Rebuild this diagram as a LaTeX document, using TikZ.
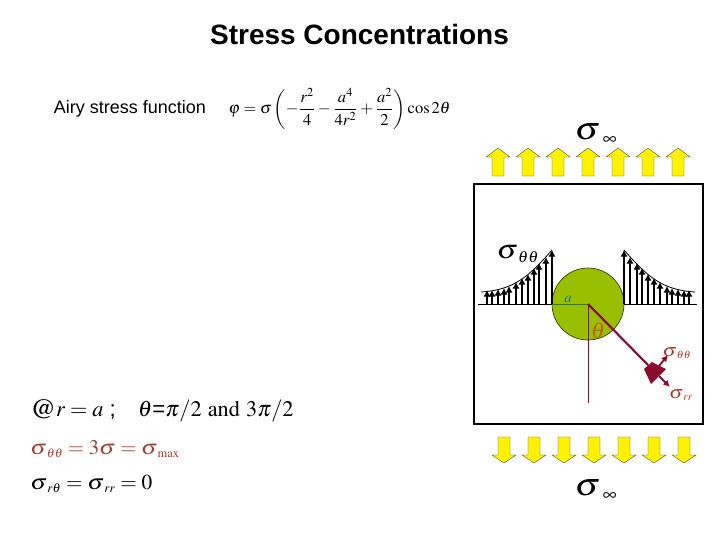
\documentclass[tikz,border=0pt]{standalone}
\usepackage{fontspec}
\usepackage{mathptmx}
\usetikzlibrary{arrows.meta}
\setmainfont{Liberation Sans}
\definecolor{leaf}{RGB}{153,192,0}
\definecolor{maroon}{RGB}{140,10,45}
\definecolor{rust}{RGB}{165,60,50}
\definecolor{ochre}{RGB}{190,100,20}
\definecolor{teal}{RGB}{30,120,130}
\newcommand{\widesig}{\scalebox{1.12}[1]{$\sigma$}}
\newcommand{\sigsub}[1]{\widesig_{\scriptscriptstyle #1}}
\tikzset{
    x=0.75pt,y=-0.75pt,
    yellowarrow/.style={draw=black!70,fill=yellow,line width=0.3pt},
    stressarrow/.style={-{Latex[length=5pt,width=5.5pt]},line width=1.15pt},
    redarrow/.style={maroon,-{Latex[length=5pt,width=5pt]},line width=1.4pt},
    eqn/.style={anchor=base west,inner sep=0pt},
    biglabel/.style={inner sep=0pt,font=\fontsize{24}{24}\selectfont},
    smalllabel/.style={inner sep=0pt,font=\fontsize{13.5}{14}\selectfont,text=rust}
}
\begin{document}
\begin{tikzpicture}
    \useasboundingbox (0,0) rectangle (720,540);
    \node [inner sep=0pt,font=\fontsize{21}{24}\selectfont\bfseries] (title) at (359.5,34) {Stress Concentrations};
    \node [inner sep=0pt,font=\fontsize{13.5}{16}\selectfont] (airy) at (130,109) {Airy stress function};
    \node [inner sep=0pt,font=\fontsize{12.4}{14}\selectfont] (phi) at (339.5,109) {$\displaystyle \varphi=\sigma\left(-\frac{r^2}{4}-\frac{a^4}{4r^2}+\frac{a^2}{2}\right)\cos 2\theta$};
    \draw [line width=0.9pt] (474,184) rectangle (703,424);
    \foreach \x in {498,528,558,588,618,648,678}
        \draw [yellowarrow] (\x,148) -- ++(12,9) -- ++(-6,0) -- ++(0,19) -- ++(-12,0) -- ++(0,-19) -- ++(-6,0) -- cycle;
    \foreach \x in {504,534,564,594,624,654,684}
        \draw [yellowarrow] (\x,463) -- ++(12,-8) -- ++(-6,0) -- ++(0,-18) -- ++(-12,0) -- ++(0,18) -- ++(-6,0) -- cycle;
    \node [biglabel] (topsig) at (596,134) {$\widesig_{\,\scriptscriptstyle\infty}$};
    \node [biglabel] (botsig) at (596,490) {$\widesig_{\,\scriptscriptstyle\infty}$};
    \fill [leaf] (588,304) circle (36);
    \draw [line width=0.5pt,black!70!leaf] (588,304) circle (36);
    \draw [line width=0.6pt] (478,304) -- (552,304);
    \draw [line width=0.6pt] (624,304) -- (697,304);
    \draw [teal,line width=0.6pt] (552,304) -- (588,304);
    \foreach \x/\y in {487/290,492/290,498/289,504/288,509/286,516/282,522/278,528/274,534/268,539/263,546/257,552/250}
    {
        \draw [stressarrow] (\x,304) -- (\x,\y);
        \draw [stressarrow] (1176-\x,304) -- (1176-\x,\y);
    }
    \draw [line width=0.6pt] (481,292) .. controls (515,290) and (530,275) .. (552,250);
    \draw [line width=0.6pt] (695,292) .. controls (661,290) and (646,275) .. (624,250);
    \node [inner sep=0pt,font=\fontsize{20}{20}\selectfont] (sigleft) at (518,254) {$\sigsub{\theta\theta}$};
    \node [inner sep=0pt,text=teal,font=\fontsize{11}{11}\selectfont] (alabel) at (568,299) {$a$};
    \draw [maroon,line width=0.7pt] (588,304) -- (588,403);
    \draw [maroon,line width=1.6pt] (588,304) -- (648,365);
    \node [inner sep=0pt,text=ochre,font=\fontsize{17}{17}\selectfont] (thetalabel) at (598,331) {$\theta$};
    \fill [maroon] (644,369) -- (652,362) -- (666,369) -- (651,384) -- cycle;
    \draw [redarrow] (659,366) -- (668,355);
    \draw [redarrow] (659,376) -- (670,387);
    \node [smalllabel] (sigtt) at (677,353) {$\sigsub{\theta\theta}$};
    \node [smalllabel] (sigrr) at (681,395) {$\sigsub{rr}$};
    \node [eqn,font=\fontsize{16.7}{20}\selectfont] (line1) at (30,416) {\raisebox{-1.5pt}{\fontsize{21}{20}\selectfont$\mathrm{@}$}$r=a$\ ;\quad $\theta$=$\pi/2$ $\mathrm{and}$ $3\pi/2$};
    \node [eqn,text=rust,font=\fontsize{15.6}{20}\selectfont] (line2) at (30,454) {$\sigsub{\theta\theta}=3\widesig=\widesig_{\scriptscriptstyle\max}$};
    \node [eqn,font=\fontsize{16}{20}\selectfont] (line3) at (30,489) {$\sigsub{r\theta}=\sigsub{rr}=0$};
\end{tikzpicture}
\end{document}
